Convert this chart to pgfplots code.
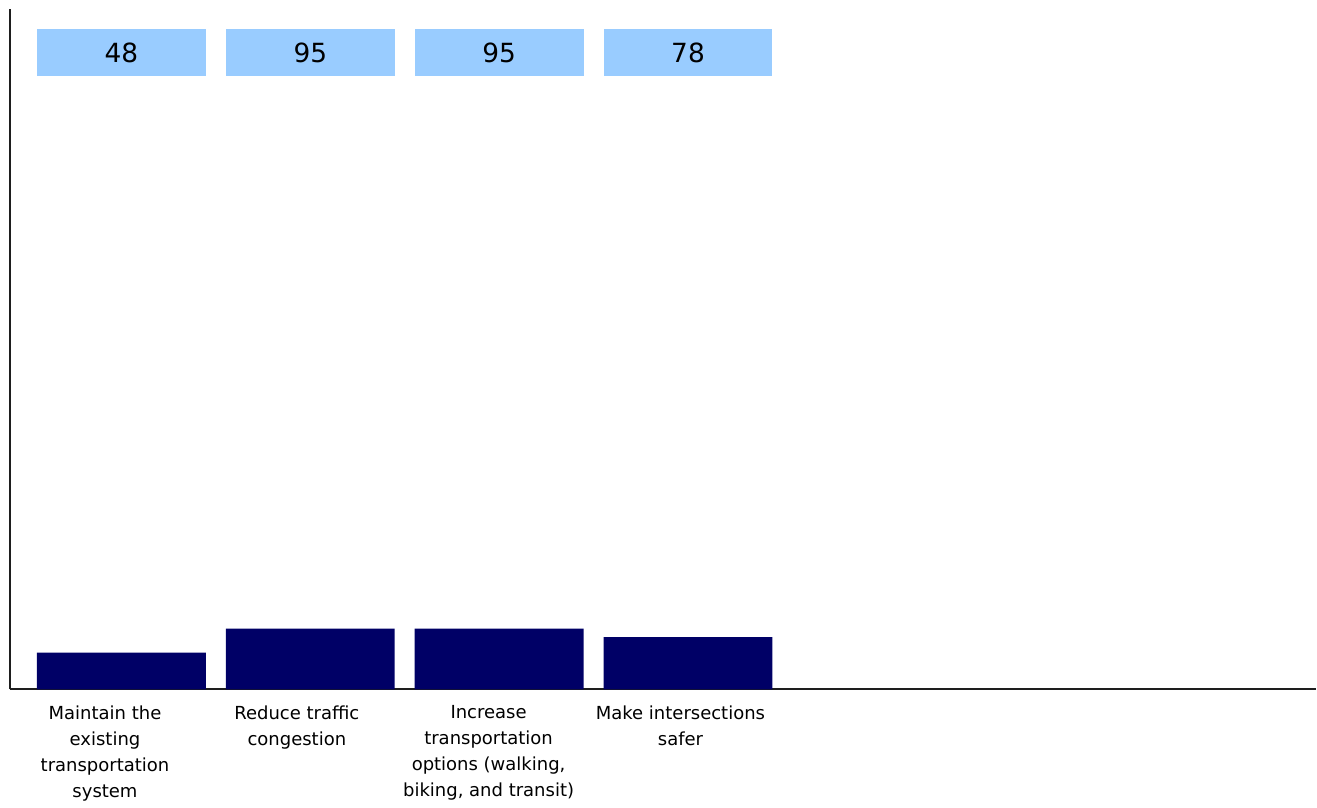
\documentclass[border=0pt]{standalone}
\usepackage{pgfplots}
\pgfplotsset{compat=1.18}
\usepackage{fontspec}
\setmainfont{DejaVu Sans}
\definecolor{navybar}{RGB}{0,0,102}
\definecolor{lightbox}{RGB}{153,204,255}
\definecolor{axisgray}{RGB}{30,30,30}
\begin{document}
\begin{tikzpicture}
\begin{axis}[
  scale only axis,
  width=653.5pt, height=340.5pt,
  xmin=-0.59, xmax=6.325,
  ymin=0, ymax=1334,
  axis x line=bottom, axis y line=left,
  axis line style={-, line width=1pt, color=axisgray},
  ytick=\empty,
  xtick={-0.087,0.929,1.944,2.960},
  major tick length=0pt,
  xticklabels={{Maintain the\\existing\\transportation\\system},
               {Reduce traffic\\congestion},
               {Increase\\transportation\\options (walking,\\biking, and transit)},
               {Make intersections\\safer}},
  xticklabel style={align=center, font=\fontsize{9}{13}\selectfont, text=black, anchor=north, yshift=-4.5pt},
  clip=false,
]
\addplot[ybar, bar width=84.5pt, fill=navybar, draw=none,
  y filter/.expression={y+24.5}]
  coordinates {(0,48) (1,95) (2,95) (3,78)};
\addplot[only marks, mark=none, draw=none,
  nodes near coords, point meta=explicit symbolic,
  every node near coord/.append style={anchor=center, fill=lightbox, minimum width=84.5pt, minimum height=23.5pt, inner sep=0pt, font=\fontsize{13.2}{16}\selectfont, text=black}]
  coordinates {(0,1248.5)[48] (1,1248.5)[95] (2,1248.5)[95] (3,1248.5)[78]};
\end{axis}
\useasboundingbox ([xshift=-5pt,yshift=-58.5pt]current axis.south west) rectangle ([yshift=4.5pt]current axis.north east);
\end{tikzpicture}
\end{document}
